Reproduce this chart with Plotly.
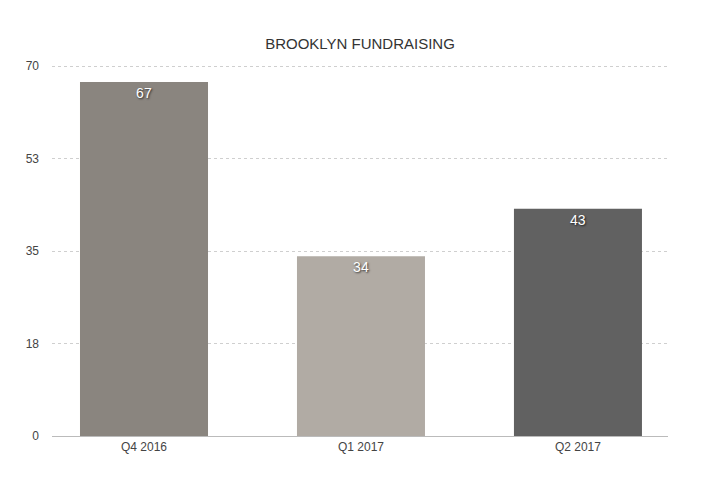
import plotly.graph_objects as go

categories = ["Q4 2016", "Q1 2017", "Q2 2017"]
values = [67, 34, 43]
colors = ["#8a857f", "#b1aba4", "#616161"]
tick_vals = [0, 17.5, 35, 52.5, 70]
tick_text = ["0", "18", "35", "53", "70"]

fig = go.Figure()
fig.add_trace(go.Bar(
    x=categories, y=values, marker=dict(color=colors, line=dict(width=0)),
    width=0.59,
    text=[str(v) for v in values], textposition="inside", insidetextanchor="end",
    textfont=dict(family="Liberation Sans, Arial, sans-serif", size=14, color="white",
                  shadow="1px 1px 2px rgba(0,0,0,0.7)"),
    hoverinfo="skip",
))

fig.update_layout(
    width=705, height=485,
    margin=dict(l=52, r=37, t=65, b=49),
    paper_bgcolor="white", plot_bgcolor="white",
    title=dict(text="BROOKLYN FUNDRAISING", xref="paper", x=0.5, xanchor="center",
               y=1 - 44 / 485, yanchor="middle",
               font=dict(family="Liberation Sans, Arial, sans-serif", size=15, color="#333333")),
    font=dict(family="Liberation Sans, Arial, sans-serif", size=12, color="#444444"),
    showlegend=False,
)
fig.update_xaxes(range=[-0.424, 2.415], showgrid=False, showline=True, linecolor="#bbbbbb",
                 linewidth=1, ticks="", tickfont=dict(size=12, color="#444444"))
fig.update_yaxes(range=[0, 70.2], tickvals=tick_vals, ticktext=tick_text, showgrid=True,
                 gridcolor="#cfcfcf", griddash="dot", gridwidth=1, zeroline=False,
                 showline=False, ticks="", ticklabelstandoff=12, tickfont=dict(size=12, color="#444444"))

fig.write_html("out.html")
